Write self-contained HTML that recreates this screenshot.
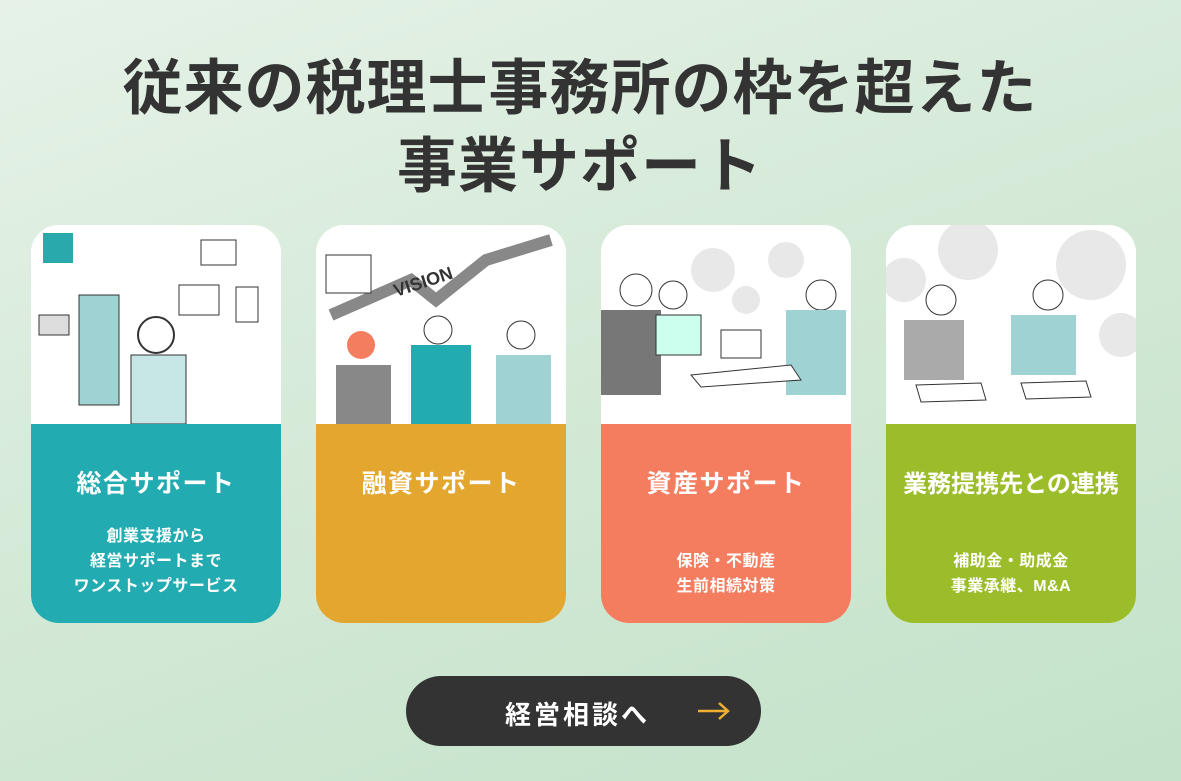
<!DOCTYPE html>
<html><head><meta charset="utf-8"><style>
html,body{margin:0;padding:0}
body{width:1181px;height:781px;overflow:hidden;position:relative;font-family:"Liberation Sans","Noto Sans CJK JP",sans-serif;background:linear-gradient(160deg,#e6f2e8 0%,#d3e9d6 50%,#c3e2c9 100%)}
h1{position:absolute;left:0;width:1160px;top:50px;margin:0;text-align:center;font-size:60px;line-height:78px;font-weight:700;color:#333;letter-spacing:1px}
.card{position:absolute;top:225px;width:250px;height:398px;border-radius:28px;overflow:hidden;background:#fff}
.img{position:absolute;left:0;top:0;width:250px;height:199px;background:#fff}
.bot{position:absolute;left:0;top:199px;width:250px;height:199px;color:#fff;text-align:center}
.t{position:absolute;top:40px;width:100%;font-size:25px;font-weight:700;letter-spacing:1.5px}
.s{position:absolute;width:100%;font-size:16px;line-height:25px;font-weight:700;letter-spacing:.5px}
.btn{position:absolute;left:406px;top:676px;width:355px;height:70px;border-radius:35px;background:#333;color:#fff;font-size:26px;font-weight:700;letter-spacing:3px}
</style></head><body>
<h1>従来の税理士事務所の枠を超えた<br>事業サポート</h1>

<div class="card" style="left:31px">
<div class="img"><svg width="250" height="199">
<rect x="48" y="70" width="40" height="110" fill="#9fd3d3" stroke="#333"/>
<circle cx="125" cy="110" r="18" fill="#fff" stroke="#333" stroke-width="2"/>
<rect x="100" y="130" width="55" height="69" fill="#c7e6e6" stroke="#333"/>
<rect x="170" y="15" width="35" height="25" fill="#fff" stroke="#333"/>
<rect x="148" y="60" width="40" height="30" fill="#fff" stroke="#333"/>
<rect x="205" y="62" width="22" height="35" fill="#fff" stroke="#333"/>
<rect x="12" y="8" width="30" height="30" fill="#2aa9ad"/>
<rect x="8" y="90" width="30" height="20" fill="#ddd" stroke="#333"/>
</svg></div>
<div class="bot" style="background:#22abb0"><div class="t">総合サポート</div>
<div class="s" style="top:100px">創業支援から<br>経営サポートまで<br>ワンストップサービス</div></div></div>

<div class="card" style="left:316px">
<div class="img"><svg width="250" height="199">
<polyline points="15,90 95,55 120,75 170,35 235,15" fill="none" stroke="#888" stroke-width="12"/>
<text x="80" y="72" font-size="18" font-weight="700" fill="#333" transform="rotate(-18 80 72)">VISION</text>
<rect x="10" y="30" width="45" height="38" fill="#fff" stroke="#333"/>
<circle cx="45" cy="120" r="14" fill="#f47c5f"/><rect x="20" y="140" width="55" height="59" fill="#888"/>
<circle cx="122" cy="105" r="14" fill="#fff" stroke="#333"/><rect x="95" y="120" width="60" height="79" fill="#22abb0"/>
<circle cx="205" cy="110" r="14" fill="#fff" stroke="#333"/><rect x="180" y="130" width="55" height="69" fill="#9fd3d3"/>
</svg></div>
<div class="bot" style="background:#e3a730"><div class="t">融資サポート</div></div></div>

<div class="card" style="left:601px">
<div class="img"><svg width="250" height="199">
<circle cx="35" cy="65" r="16" fill="#fff" stroke="#333"/><rect x="0" y="85" width="60" height="85" fill="#777"/>
<circle cx="72" cy="70" r="14" fill="#fff" stroke="#333"/><rect x="55" y="90" width="45" height="40" fill="#cfe" stroke="#333"/>
<circle cx="220" cy="70" r="15" fill="#fff" stroke="#333"/><rect x="185" y="85" width="60" height="85" fill="#9fd3d3"/>
<rect x="120" y="105" width="40" height="28" fill="#fff" stroke="#333"/>
<polygon points="90,150 190,140 200,155 100,162" fill="#fff" stroke="#333"/>
<circle cx="112" cy="45" r="22" fill="#e8e8e8"/><circle cx="185" cy="35" r="18" fill="#e8e8e8"/><circle cx="145" cy="75" r="14" fill="#e8e8e8"/>
</svg></div>
<div class="bot" style="background:#f47c5f"><div class="t">資産サポート</div>
<div class="s" style="top:125px">保険・不動産<br>生前相続対策</div></div></div>

<div class="card" style="left:886px">
<div class="img"><svg width="250" height="199">
<circle cx="18" cy="55" r="22" fill="#e8e8e8"/><circle cx="82" cy="25" r="30" fill="#e8e8e8"/>
<circle cx="205" cy="40" r="35" fill="#e8e8e8"/><circle cx="235" cy="110" r="22" fill="#e8e8e8"/>
<circle cx="55" cy="75" r="15" fill="#fff" stroke="#333"/><rect x="18" y="95" width="60" height="60" fill="#aaa"/>
<circle cx="162" cy="70" r="15" fill="#fff" stroke="#333"/><rect x="125" y="90" width="65" height="60" fill="#9fd3d3"/>
<polygon points="30,160 95,158 100,175 35,177" fill="#fff" stroke="#333"/>
<polygon points="135,158 200,156 205,172 140,174" fill="#fff" stroke="#333"/>
</svg></div>
<div class="bot" style="background:#9cbd2a"><div class="t" style="font-size:24px;letter-spacing:0">業務提携先との連携</div>
<div class="s" style="top:125px">補助金・助成金<br>事業承継、M&amp;A</div></div></div>

<div class="btn"><span style="position:absolute;left:99px;top:19px">経営相談へ</span>
<svg style="position:absolute;left:290px;top:24px" width="36" height="22"><path d="M2 11H32M23 3L32 11L23 19" fill="none" stroke="#f0b030" stroke-width="2.5"/></svg></div>
</body></html>
